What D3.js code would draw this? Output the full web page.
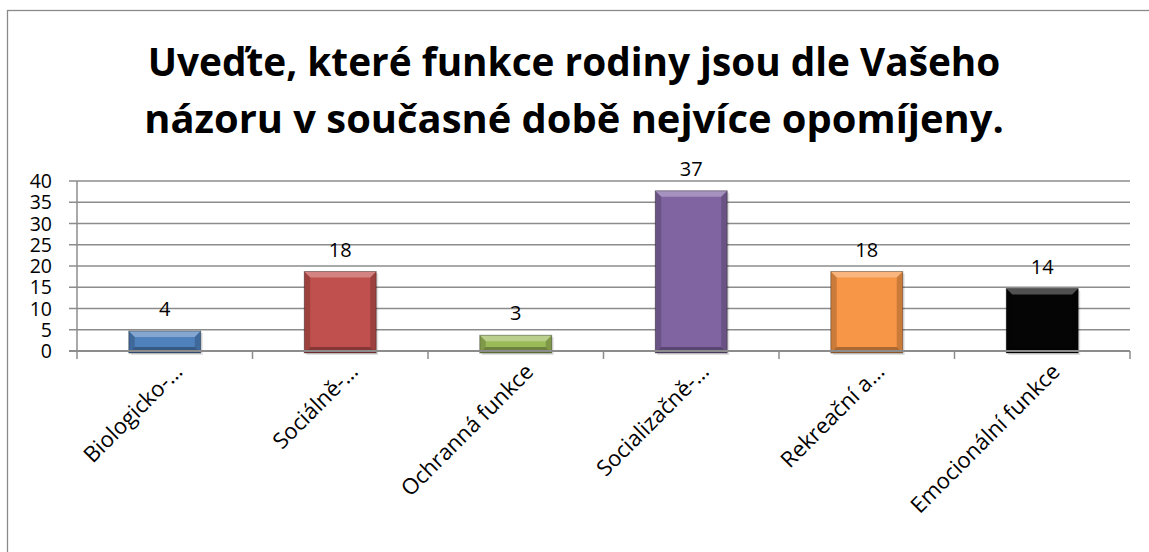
<!DOCTYPE html>
<head>
  <meta charset="utf-8">
  <script src="https://d3js.org/d3.v7.min.js"></script>
  <style>
    body { margin: 0; background: #fff; font-family: "Open Sans", "Noto Sans", sans-serif; }
    svg { position: absolute; top: 0; left: 0; }
  </style>
</head>
<body>
  <svg width="1149" height="552"></svg>
  <script>
    var categories = ['Biologicko-…', 'Sociálně-…', 'Ochranná funkce', 'Socializačně-…', 'Rekreační a…', 'Emocionální funkce'];
    var values = [4, 18, 3, 37, 18, 14];
    var colors = ['#4F81BD', '#C0504D', '#9BBB59', '#8064A2', '#F79646', '#050505'];
    var yTicks = [0, 5, 10, 15, 20, 25, 30, 35, 40];
    var titleLines = ['Uveďte, které funkce rodiny jsou dle Vašeho', 'názoru v současné době nejvíce opomíjeny.'];

    var svg = d3.select('svg');
    var plotLeft = 77, plotRight = 1130, plotTop = 181, plotBottom = 351;

    // outer chart border (runs off the right and bottom edges)
    svg.append('rect')
      .attr('x', 7.5).attr('y', 10.5)
      .attr('width', 1160).attr('height', 560)
      .attr('fill', '#fff').attr('stroke', '#8a8a8a').attr('stroke-width', 1.3);

    // title, fitted to the widths
    var titleWidths = [853, 860];
    var titleBase = [76, 133];
    titleLines.forEach(function(t, i) {
      var el = svg.append('text')
        .attr('x', 574).attr('y', titleBase[i])
        .attr('text-anchor', 'middle')
        .attr('font-weight', 700)
        .attr('font-size', 40)
        .attr('fill', '#000')
        .text(t);
      var len = el.node().getComputedTextLength();
      el.attr('font-size', 40 * titleWidths[i] / len);
    });

    var x = d3.scaleBand().domain(categories).range([plotLeft, plotRight]).paddingInner(0.59).paddingOuter(0.295);
    var band = d3.scaleBand().domain(categories).range([plotLeft, plotRight]);
    var y = d3.scaleLinear().domain([0, 40]).range([plotBottom, plotTop]);

    // gridlines
    svg.append('g').selectAll('line')
      .data(yTicks).enter().append('line')
      .attr('x1', plotLeft - 8).attr('x2', plotRight)
      .attr('y1', function(d) { return y(d); })
      .attr('y2', function(d) { return y(d); })
      .attr('stroke', '#8c8c8c').attr('stroke-width', 1.5);

    // y labels
    svg.append('g').selectAll('text')
      .data(yTicks).enter().append('text')
      .attr('x', 52).attr('y', function(d) { return y(d) + 7; })
      .attr('text-anchor', 'end')
      .attr('font-size', 19.5)
      .attr('fill', '#000')
      .text(function(d) { return d; });

    // bars with a bevel look
    var bev = 6;
    var bw = x.bandwidth();
    var bars = svg.append('g').selectAll('g')
      .data(values).enter().append('g')
      .attr('transform', function(d, i) {
        return 'translate(' + x(categories[i]) + ',0)';
      });

    // soft shadow
    bars.append('rect')
      .attr('x', 2).attr('y', function(d) { return y(d) - 1; })
      .attr('width', bw).attr('height', function(d) { return plotBottom - y(d) + 5; })
      .attr('fill', 'rgba(0,0,0,0.12)');
    bars.append('rect')
      .attr('x', 0).attr('y', function(d) { return y(d) - 3; })
      .attr('width', bw).attr('height', function(d) { return plotBottom - y(d) + 5; })
      .attr('fill', function(d, i) { return colors[i]; });
    // top facet
    bars.append('path')
      .attr('d', function(d) {
        var t = y(d) - 3;
        return 'M0,' + t + 'L' + bw + ',' + t + 'L' + (bw - bev) + ',' + (t + bev) + 'L' + bev + ',' + (t + bev) + 'Z';
      })
      .attr('fill', 'rgba(255,255,255,0.3)');
    // side facets
    bars.append('path')
      .attr('d', function(d) {
        var t = y(d) - 3, b = plotBottom + 2;
        return 'M0,' + t + 'L' + bev + ',' + (t + bev) + 'L' + bev + ',' + (b - bev) + 'L0,' + b + 'Z' +
          'M' + bw + ',' + t + 'L' + (bw - bev) + ',' + (t + bev) + 'L' + (bw - bev) + ',' + (b - bev) + 'L' + bw + ',' + b + 'Z';
      })
      .attr('fill', 'rgba(0,0,0,0.18)');
    // bottom facet
    bars.append('path')
      .attr('d', function(d) {
        var b = plotBottom + 2;
        return 'M0,' + b + 'L' + bev + ',' + (b - bev) + 'L' + (bw - bev) + ',' + (b - bev) + 'L' + bw + ',' + b + 'Z';
      })
      .attr('fill', 'rgba(0,0,0,0.3)');
    bars.append('rect')
      .attr('x', 0).attr('y', function(d) { return y(d) - 3; })
      .attr('width', bw).attr('height', function(d) { return plotBottom - y(d) + 5; })
      .attr('fill', 'none')
      .attr('stroke', 'rgba(0,0,0,0.35)').attr('stroke-width', 1);

    // value labels
    svg.append('g').selectAll('text')
      .data(values).enter().append('text')
      .attr('x', function(d, i) { return x(categories[i]) + bw / 2; })
      .attr('y', function(d) { return y(d) - 18; })
      .attr('text-anchor', 'middle')
      .attr('font-size', 20)
      .attr('fill', '#000')
      .text(function(d) { return d; });

    // axes
    svg.append('line')
      .attr('x1', plotLeft).attr('x2', plotLeft).attr('y1', plotTop).attr('y2', plotBottom)
      .attr('stroke', '#8c8c8c').attr('stroke-width', 1.5);
    svg.append('line')
      .attr('x1', plotLeft - 8).attr('x2', plotRight).attr('y1', plotBottom).attr('y2', plotBottom)
      .attr('stroke', '#8c8c8c').attr('stroke-width', 1.8);
    var tickX = categories.map(function(c) { return band(c); }).concat([plotRight]);
    svg.append('g').selectAll('line')
      .data(tickX).enter().append('line')
      .attr('x1', function(d) { return d; }).attr('x2', function(d) { return d; })
      .attr('y1', plotBottom).attr('y2', plotBottom + 8)
      .attr('stroke', '#8c8c8c').attr('stroke-width', 1.5);

    // category labels, rotated
    svg.append('g').selectAll('text')
      .data(categories).enter().append('text')
      .attr('transform', function(d) {
        return 'translate(' + (band(d) + band.bandwidth() / 2 + 19) + ',' + 373 + ')rotate(-45)';
      })
      .attr('text-anchor', 'end')
      .attr('font-size', 22)
      .attr('fill', '#000')
      .text(function(d) { return d; });
  </script>
</body>
